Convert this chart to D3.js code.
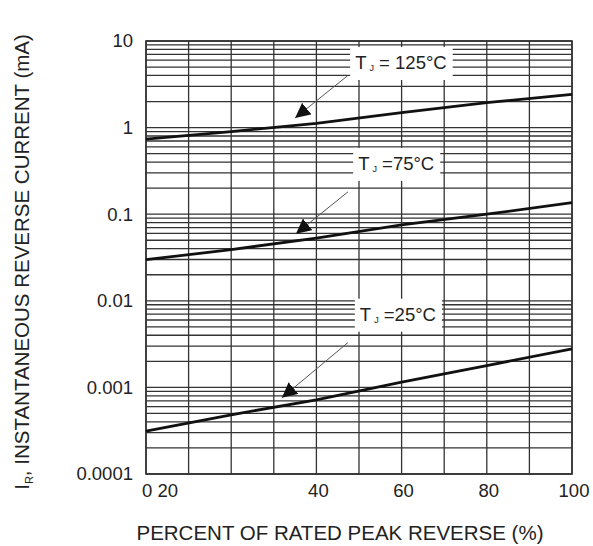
<!DOCTYPE html>
<html>
<head>
<meta charset="utf-8">
<script src="https://cdn.jsdelivr.net/npm/d3@7"></script>
<style>
  html, body { margin: 0; padding: 0; background: #fff; }
  text { font-family: "Liberation Sans", Arial, sans-serif; fill: #222; }
</style>
</head>
<body>
<svg id="chart" width="593" height="546"></svg>
<script>
// ---- data ----
const pct = [0, 20, 40, 60, 80, 100];
const tj125 = [0.735, 0.90, 1.12, 1.49, 1.94, 2.42];
const tj75 = [0.0298, 0.039, 0.053, 0.0755, 0.10, 0.136];
const tj25 = [0.000312, 0.000483, 0.00072, 0.00115, 0.00179, 0.00278];
const seriesNames = ["125°C", "75°C", "25°C"];
const seriesLabels = [" = 125°C", " =75°C", " =25°C"];
const xTickValues = [0, 40, 60, 80, 100];
const xTickLabels = ["0 20", "40", "60", "80", "100"];
const yTickValues = [10, 1, 0.1, 0.01, 0.001, 0.0001];
const yTickLabels = ["10", "1", "0.1", "0.01", "0.001", "0.0001"];
// annotation anchors in data units: label position, arrow start, arrow tip
const labelPos = [[49.1, 4.75], [49.8, 0.325], [50.2, 0.00589]];
const arrowFrom = [[47.4, 4.0], [47.4, 0.181], [47.4, 0.00329]];
const arrowTo = [[35.0, 1.29], [35.2, 0.0594], [31.9, 0.00076]];

// ---- layout ----
const svg = d3.select("#chart");
const pLeft = 146, pRight = 572, pTop = 41, pBottom = 474;
const x = d3.scaleLinear().domain([0, 100]).range([pLeft, pRight]);
const y = d3.scaleLog().domain([0.0001, 10]).range([pBottom, pTop]);

// grid
const hVals = [];
for (let e = -4; e <= 0; e++) for (let m = 1; m <= 9; m++) hVals.push(m * Math.pow(10, e));
hVals.push(10);
const grid = svg.append("g").attr("stroke", "#333").attr("stroke-width", 1.3);
grid.selectAll("line.h").data(hVals).join("line")
  .attr("x1", pLeft).attr("x2", pRight)
  .attr("y1", d => y(d)).attr("y2", d => y(d));
grid.selectAll("line.v").data(d3.range(0, 101, 10)).join("line")
  .attr("x1", d => x(d)).attr("x2", d => x(d))
  .attr("y1", pTop).attr("y2", pBottom);
svg.append("rect").attr("x", pLeft).attr("y", pTop)
  .attr("width", pRight - pLeft).attr("height", pBottom - pTop)
  .attr("fill", "none").attr("stroke", "#333").attr("stroke-width", 1.6);

// curves
const line = d3.line().x(d => x(d[0])).y(d => y(d[1]));
[tj125, tj75, tj25].forEach(vals => {
  svg.append("path").datum(pct.map((p, i) => [p, vals[i]]))
    .attr("d", line).attr("fill", "none")
    .attr("stroke", "#111").attr("stroke-width", 2.8);
});

// arrow marker
svg.append("defs").append("marker")
  .attr("id", "tri").attr("viewBox", "0 0 10 10")
  .attr("refX", 10).attr("refY", 5)
  .attr("markerWidth", 15).attr("markerHeight", 15)
  .attr("markerUnits", "userSpaceOnUse")
  .attr("orient", "auto")
  .append("path").attr("d", "M0,0 L10,5 L0,10 Z").attr("fill", "#111");

// labels with white boxes
seriesNames.forEach((n, i) => {
  const g = svg.append("g");
  const rect = g.append("rect").attr("fill", "#fff");
  const t = g.append("text")
    .attr("x", x(labelPos[i][0])).attr("y", y(labelPos[i][1]))
    .attr("font-size", 18.5);
  t.append("tspan").text("T");
  t.append("tspan").attr("font-size", 9).attr("dx", 3).attr("dy", 2).text("J");
  t.append("tspan").attr("dy", -2).text(seriesLabels[i]);
  const bb = t.node().getBBox();
  rect.attr("x", bb.x - 5).attr("y", bb.y - 5)
    .attr("width", bb.width + 11).attr("height", bb.height + 12);
  svg.append("line")
    .attr("x1", x(arrowFrom[i][0])).attr("y1", y(arrowFrom[i][1]))
    .attr("x2", x(arrowTo[i][0])).attr("y2", y(arrowTo[i][1]))
    .attr("stroke", "#555").attr("stroke-width", 1)
    .attr("marker-end", "url(#tri)");
});

// y tick labels
svg.append("g").selectAll("text").data(yTickValues).join("text")
  .attr("x", 133).attr("y", d => y(d)).attr("dy", "0.35em")
  .attr("text-anchor", "end").attr("font-size", 18.5)
  .text((d, i) => yTickLabels[i]);

// x tick labels
svg.append("g").selectAll("text").data(xTickValues).join("text")
  .attr("x", (d, i) => i === 0 ? x(d) - 4 : x(d) + 2)
  .attr("y", 497)
  .attr("text-anchor", (d, i) => i === 0 ? "start" : "middle")
  .attr("font-size", 18.5)
  .text((d, i) => xTickLabels[i]);

// axis titles
svg.append("text").attr("x", 340).attr("y", 540)
  .attr("text-anchor", "middle").attr("font-size", 20.5)
  .text("PERCENT OF RATED PEAK REVERSE (%)");
const yt = svg.append("text")
  .attr("transform", "translate(29,262) rotate(-90)")
  .attr("text-anchor", "middle").attr("font-size", 20.5);
yt.append("tspan").text("I");
yt.append("tspan").attr("font-size", 11).attr("dy", 4).text("R");
yt.append("tspan").attr("dy", -4).text(", INSTANTANEOUS REVERSE CURRENT (mA)");
</script>
</body>
</html>
